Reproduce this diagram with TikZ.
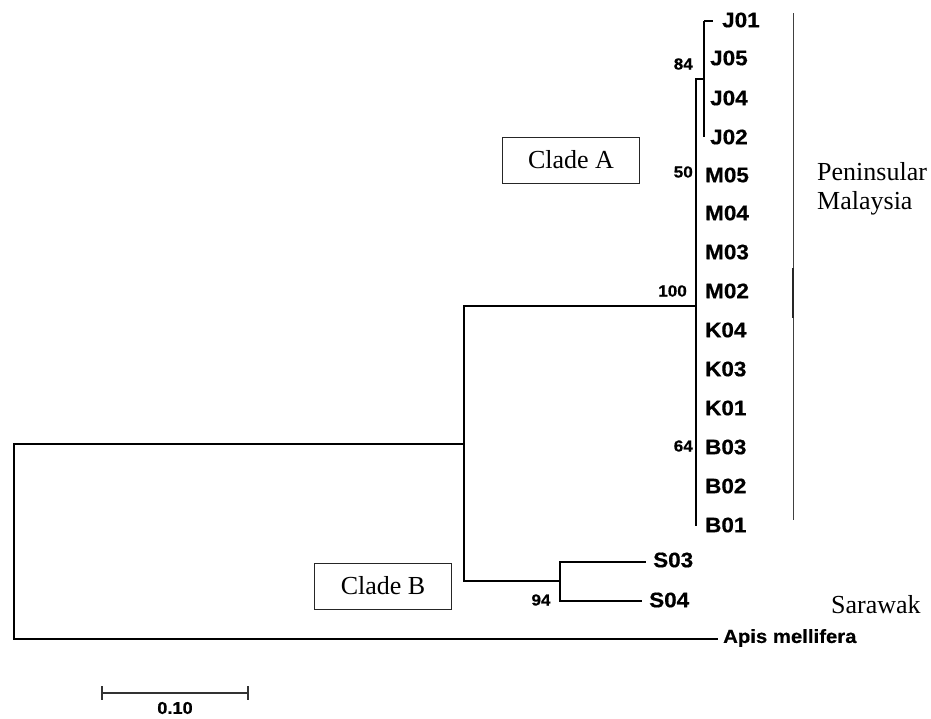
\documentclass[tikz,border=0pt]{standalone}
\usepackage{fontspec}
\setmainfont{Liberation Serif}
\newfontfamily\arialb{Liberation Sans}[BoldFeatures={FakeBold=0.6,FakeStretch=1.07}]
\begin{document}
\begin{tikzpicture}[x=1pt,y=-1pt,
  branch/.style={line width=1.5pt,line cap=rect},
  taxon/.style={anchor=west,inner sep=0pt,font=\arialb\bfseries\fontsize{21}{23}\selectfont},
  boot/.style={inner sep=0pt,font=\arialb\bfseries\fontsize{16}{18}\selectfont},
  cladebox/.style={draw=black!85,line width=0.8pt,minimum width=137pt,minimum height=46pt,inner sep=0pt,font=\fontsize{26}{29}\selectfont},
  region/.style={inner sep=0pt,align=left,font=\fontsize{26}{29}\selectfont},
  bar/.style={line width=1.2pt,black!80}]
\useasboundingbox (0,0) rectangle (931,718);
% internal nodes / branch points
\coordinate (rootT) at (14,444);
\coordinate (rootB) at (14,639);
\coordinate (ing) at (464,444);
\coordinate (ingT) at (464,306);
\coordinate (ingB) at (464,581);
\coordinate (cA) at (696,306);
\coordinate (cAT) at (696,79);
\coordinate (cAB) at (696,525);
\coordinate (jn) at (704,79);
\coordinate (jT) at (704,21);
\coordinate (jB) at (704,137);
\coordinate (j01) at (713,21);
\coordinate (cB) at (560,581);
\coordinate (cBT) at (560,562);
\coordinate (cBB) at (560,601);
\coordinate (s03) at (645,562);
\coordinate (s04) at (641,601);
\coordinate (apis) at (717,639);
% branches
\draw[branch] (rootT) -- (rootB);
\draw[branch] (rootT) -- (ing);
\draw[branch] (ingT) -- (ingB);
\draw[branch] (ingT) -- (cA);
\draw[branch] (cAT) -- (cAB);
\draw[line width=2.2pt] (696,172) -- (696,427);
\draw[branch] (cAT) -- (jn);
\draw[line width=1.2pt] (jT) -- (jB);
\draw[line width=1.2pt] (jT) -- (j01);
\draw[branch] (ingB) -- (cB);
\draw[branch] (cBT) -- (cBB);
\draw[branch] (cBT) -- (s03);
\draw[branch] (cBB) -- (s04);
\draw[branch] (rootB) -- (apis);
% taxa
\node[taxon] (tJ01) at (722,20) {J01};
\node[taxon] (tJ05) at (710,58) {J05};
\node[taxon] (tJ04) at (710,98) {J04};
\node[taxon] (tJ02) at (710,137) {J02};
\node[taxon] (tM05) at (705,175) {M05};
\node[taxon] (tM04) at (705,213) {M04};
\node[taxon] (tM03) at (705,252) {M03};
\node[taxon] (tM02) at (705,291) {M02};
\node[taxon] (tK04) at (705,330) {K04};
\node[taxon] (tK03) at (705,369) {K03};
\node[taxon] (tK01) at (705,408) {K01};
\node[taxon] (tB03) at (705,447) {B03};
\node[taxon] (tB02) at (705,486) {B02};
\node[taxon] (tB01) at (705,525) {B01};
\node[taxon] (tS03) at (653,560) {S03};
\node[taxon] (tS04) at (649,600) {S04};
\node[taxon,font=\arialb\bfseries\fontsize{19}{21}\selectfont] (tApis) at (723,638) {Apis mellifera};
% bootstrap values
\node[boot,anchor=east] (b84) at (693,64) {84};
\node[boot,anchor=east] (b50) at (693,172) {50};
\node[boot,anchor=east] (b100) at (687,291) {100};
\node[boot,anchor=east] (b64) at (693,446) {64};
\node[boot] (b94) at (541,600) {94};
% clade boxes
\node[cladebox] (cladeA) at (571,160) {Clade A};
\node[cladebox] (cladeB) at (383,586) {Clade B};
% region bar and labels
\draw[line width=1pt,black!75] (793,13) -- (793,520);
\draw[line width=1.6pt,black!85] (793,268) -- (793,318);
\node[region,anchor=north west] (pen) at (817,162) {Peninsular\\Malaysia};
\node[region,anchor=west] (sar) at (831,605) {Sarawak};
% scale bar
\coordinate (sbL) at (102,693);
\coordinate (sbR) at (248,693);
\draw[bar] (sbL) -- (sbR);
\draw[bar] (102,686) -- (102,700);
\draw[bar] (248,686) -- (248,700);
\node[boot,font=\arialb\bfseries\fontsize{17}{19}\selectfont] (scale) at (175,708) {0.10};
\end{tikzpicture}
\end{document}
